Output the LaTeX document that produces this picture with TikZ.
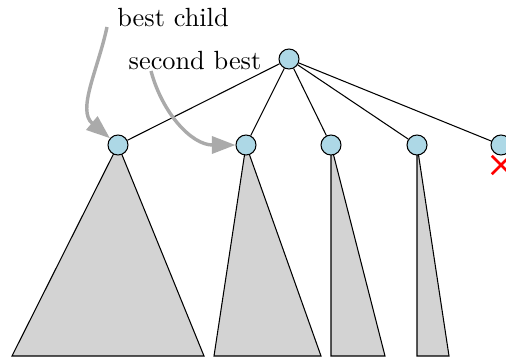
\documentclass[tikz,border=0pt]{standalone}
\usepackage{amsmath}
\usepackage{tikz}
\usetikzlibrary{arrows.meta,shapes.misc,backgrounds}

\begin{document}
\begin{tikzpicture}[x=0.38pt,y=-0.38pt,
    treenode/.style={circle,draw,fill=lightblue,minimum size=7.6pt,inner sep=0pt},
    subtree/.style={draw,fill=treegray},
    pointer/.style={draw=arrowgray,line width=1.3pt,-{Triangle[length=9pt,width=6.5pt]}}]
  \definecolor{lightblue}{RGB}{173,216,230}
  \definecolor{treegray}{RGB}{211,211,211}
  \definecolor{arrowgray}{RGB}{170,170,170}
  \clip (0,0) rectangle (506,360);
  % root and its children
  \node[treenode] (r) at (289,59) {};
  \node[treenode] (c1) at (118,145) {};
  \node[treenode] (c2) at (246,145) {};
  \node[treenode] (c3) at (331,145) {};
  \node[treenode] (c4) at (417,145) {};
  \node[treenode] (c5) at (501,145) {};
  \foreach \c in {c1,c2,c3,c4,c5}
    \draw (r) -- (\c);
  % subtrees below the children
  \begin{scope}[on background layer]
    \draw[subtree] (c1.center) -- (204,356) -- (12,356) -- cycle;
    \draw[subtree] (c2.center) -- (321,356) -- (214,356) -- cycle;
    \draw[subtree] (c3.center) -- (385,356) -- (331,356) -- cycle;
    \draw[subtree] (c4.center) -- (449,356) -- (417,356) -- cycle;
  \end{scope}
  % pruned child
  \node[cross out,draw=red,line width=1pt,minimum size=6pt,inner sep=0pt] (x5) at (501,165) {};
  % labels
  \node (best) at (173,18) {best child};
  \node (second) at (195,61) {second best};
  \coordinate (bestfrom) at (107,27);
  \coordinate (secondfrom) at (151,71);
  \draw[pointer] (bestfrom) to[out=258,in=140] (c1);
  \draw[pointer] (secondfrom) to[out=-75,in=180] (c2);
\end{tikzpicture}
\end{document}
